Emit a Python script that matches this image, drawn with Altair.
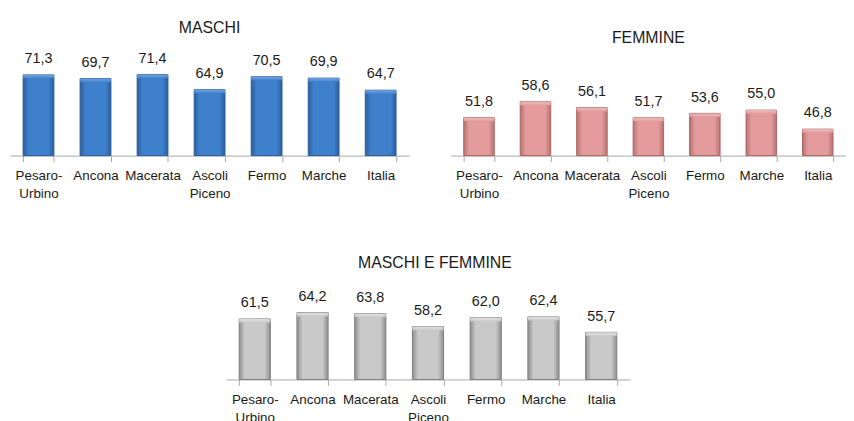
import altair as alt
import pandas as pd

categories = ["Pesaro-Urbino", "Ancona", "Macerata", "Ascoli Piceno", "Fermo", "Marche", "Italia"]
maschi = [71.3, 69.7, 71.4, 64.9, 70.5, 69.9, 64.7]
femmine = [51.8, 58.6, 56.1, 51.7, 53.6, 55.0, 46.8]
totale = [61.5, 64.2, 63.8, 58.2, 62.0, 62.4, 55.7]

LABEL_FONT = "Liberation Sans, Arial, sans-serif"
TITLE_FONT = "Liberation Sans, Arial, sans-serif"


def panel(values, title, edge, main, light, stroke, width, ymin, title_offset, title_dx=0):
    df = pd.DataFrame({"cat": categories, "val": values})
    base = alt.Chart(df).transform_calculate(
        lab="replace(format(datum.val, '.1f'), '.', ',')",
        bevel="datum.val - 1.6",
    )
    x = alt.X(
        "cat:N", sort=categories, title=None,
        scale=alt.Scale(paddingInner=0.46, paddingOuter=0.23),
        axis=alt.Axis(
            labelAngle=0, tickBand="extent", tickSize=6, tickColor="#A6A6A6",
            domainColor="#A6A6A6", labelFont=LABEL_FONT, labelFontSize=13.5,
            labelColor="#1a1a1a", labelPadding=7, labelLineHeight=18,
            labelOverlap=False, labelLimit=0,
            labelExpr="split(replace(datum.label, '-', '- '), ' ')",
        ),
    )
    y = alt.Y("val:Q", scale=alt.Scale(domain=[ymin, ymin + 47], zero=False, nice=False), axis=None)
    grad = alt.Gradient(
        gradient="linear",
        stops=[
            alt.GradientStop(color=edge, offset=0),
            alt.GradientStop(color=main, offset=0.18),
            alt.GradientStop(color=main, offset=0.82),
            alt.GradientStop(color=edge, offset=1),
        ],
        x1=0, x2=1, y1=0, y2=0,
    )
    top_grad = alt.Gradient(
        gradient="linear",
        stops=[
            alt.GradientStop(color=light, offset=0),
            alt.GradientStop(color=main, offset=1),
        ],
        x1=0, x2=0, y1=0, y2=1,
    )
    bars = base.mark_bar(fill=grad, stroke=stroke, strokeWidth=1).encode(
        x=x, y=y, y2=alt.datum(ymin)
    )
    bevel = base.mark_bar(fill=top_grad, strokeWidth=0, opacity=0.85).encode(
        x=alt.X("cat:N", sort=categories), y=alt.Y("val:Q"), y2="bevel:Q"
    )
    text = base.mark_text(baseline="alphabetic", dy=-12, fontSize=14.5, font=LABEL_FONT, color="#1a1a1a").encode(
        x=alt.X("cat:N", sort=categories), y=alt.Y("val:Q"), text="lab:N"
    )
    return alt.layer(bars, bevel, text).properties(
        width=width, height=110,
        title=alt.TitleParams(title, font=TITLE_FONT, fontSize=16, fontWeight="normal",
                              color="#1a1a1a", baseline="alphabetic", offset=title_offset, dx=title_dx),
    )


m = panel(maschi, "MASCHI", "#2B5E9E", "#3F80CC", "#7FAEE6", "#2A5A94", 403, 36.5, -2)
f = panel(femmine, "FEMMINE", "#B87272", "#E39B9B", "#F3C8C8", "#A86464", 399, 35.4, -12.5)
t = panel(totale, "MASCHI E FEMMINE", "#8E8E8E", "#C9C9C9", "#EBEBEB", "#7F7F7F", 408, 35.4, -13.5, title_dx=7)

top = alt.hconcat(m, f, spacing=42)
chart = alt.vconcat(top, t, spacing=55, center=True).properties(
    padding={"left": 2, "top": 10, "right": 0, "bottom": 0}
).configure_view(stroke=None)

chart.save("out.html", embed_options={"renderer": "svg", "actions": False})
